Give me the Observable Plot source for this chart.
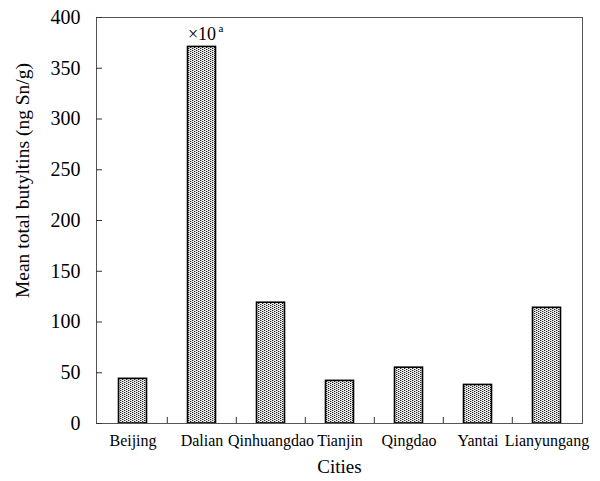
<!DOCTYPE html>
<html>
<head>
<meta charset="utf-8">
<script src="https://cdn.jsdelivr.net/npm/d3@7"></script>
<script src="https://cdn.jsdelivr.net/npm/@observablehq/plot@0.6"></script>
<style>
  html, body { margin: 0; padding: 0; background: white; }
  #chart svg, #chart svg text { font-family: "Liberation Serif", "Times New Roman", serif !important; }
</style>
</head>
<body>
<div id="chart"></div>
<script>
const cities = ["Beijing", "Dalian", "Qinhuangdao", "Tianjin", "Qingdao", "Yantai", "Lianyungang"];
const values = [44, 371, 119, 42, 55, 38, 114];
const yTicks = [0, 50, 100, 150, 200, 250, 300, 350, 400];
const yTitle = "Mean total butyltins (ng Sn/g)";
const xTitle = "Cities";
const annotationCity = "Dalian";
const annotationText = "×10";
const annotationSup = "a";

const data = cities.map((c, i) => ({city: c, value: values[i]}));
const boundaries = cities.slice(1);
const annot = data.filter(d => d.city === annotationCity);
const FF = "Liberation Serif";

const chart = Plot.plot({
  width: 600,
  height: 481,
  marginLeft: 96,
  marginRight: 18,
  marginTop: 17,
  marginBottom: 58,
  style: {fontFamily: FF, background: "white", color: "black"},
  x: {domain: cities, padding: 0, label: null},
  y: {domain: [0, 400], label: null},
  marks: [
    Plot.barY(data, {x: "city", y: "value", fill: "url(#stipple)", stroke: "black", strokeWidth: 1.6, insetLeft: 20.5, insetRight: 20.5}),
    Plot.frame({stroke: "#555", strokeWidth: 1}),
    Plot.ruleX(boundaries, {x: d => d, dx: -34.7, y1: 0, y2: 6, stroke: "#333"}),
    Plot.axisY({ticks: yTicks, tickSize: 6, dx: 6, text: null, label: null, stroke: "#333"}),
    Plot.axisY({ticks: yTicks, tickSize: 0, tickPadding: 16, fontSize: 20, fontFamily: FF, label: null}),
    Plot.axisX({tickSize: 0, tickPadding: 11, fontSize: 16, fontFamily: FF, label: null}),
    Plot.text(annot, {x: "city", y: "value", text: () => annotationText, dy: -13, fontSize: 18, fontFamily: FF, lineAnchor: "middle", textAnchor: "middle"}),
    Plot.text(annot, {x: "city", y: "value", text: () => annotationSup, dx: 19, dy: -18, fontSize: 11, fontFamily: FF, lineAnchor: "middle", textAnchor: "middle"}),
    Plot.text([xTitle], {frameAnchor: "bottom", text: d => d, dy: 43, fontSize: 19, fontFamily: FF, lineAnchor: "middle"}),
    Plot.text([yTitle], {frameAnchor: "left", text: d => d, rotate: -90, dx: -74, dy: -40, fontSize: 19.5, fontFamily: FF, lineAnchor: "middle", textAnchor: "middle"})
  ]
});

// stipple pattern for the bars
const svg = d3.select(chart);
const defs = svg.insert("defs", ":first-child");
const pat = defs.append("pattern")
  .attr("id", "stipple")
  .attr("patternUnits", "userSpaceOnUse")
  .attr("width", 4).attr("height", 2);
pat.append("rect").attr("width", 4).attr("height", 2).attr("fill", "#f2f2f2");
pat.append("rect").attr("x", 0).attr("y", 0).attr("width", 1).attr("height", 1).attr("fill", "#222");
pat.append("rect").attr("x", 2).attr("y", 1).attr("width", 1).attr("height", 1).attr("fill", "#222");
pat.append("rect").attr("x", 1).attr("y", 0).attr("width", 1).attr("height", 1).attr("fill", "#b0b0b0");
pat.append("rect").attr("x", 3).attr("y", 1).attr("width", 1).attr("height", 1).attr("fill", "#b0b0b0");

document.getElementById("chart").appendChild(chart);
</script>
</body>
</html>
